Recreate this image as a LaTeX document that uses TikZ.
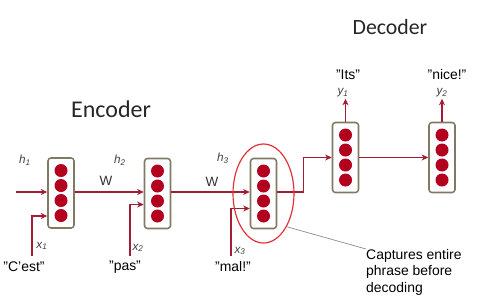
\documentclass[tikz,border=0pt]{standalone}
\usepackage{fontspec}
\setmainfont{Liberation Sans}
\newfontfamily\headfont{Carlito}
\usepackage{tikz}
\usetikzlibrary{shapes,calc,arrows.meta,positioning}

\definecolor{linkred}{RGB}{162,28,52}
\definecolor{unitred}{RGB}{178,0,30}
\definecolor{cellgray}{RGB}{128,122,100}
\definecolor{ringred}{RGB}{226,46,52}

\tikzset{
  cell/.style={draw=cellgray, line width=1.3pt, rounded corners=2.5pt, fill=white,
    minimum width=0.78cm, minimum height=2.1cm, inner sep=0pt},
  link/.style={-{Stealth[length=5.5pt,width=5pt,inset=1.5pt]}, draw=linkred, line width=1.1pt},
  word/.style={font=\fontsize{11.9}{14}\selectfont, inner sep=1pt},
  var/.style={font=\fontsize{10}{12}\selectfont\itshape, text=black!75, inner sep=1pt},
}

\begin{document}
\begin{tikzpicture}[x=0.03cm, y=-0.03cm]
\useasboundingbox (0,0) rectangle (482,302);

% titles
\node[font=\headfont\fontsize{20.5}{22}\selectfont, text=black!85] (enc) at (111,109) {Encoder};
\node[font=\headfont\fontsize{18.6}{20}\selectfont, text=black!85] (dec) at (390,27) {Decoder};

% recurrent cells
\node[cell] (c1) at (61,193) {};
\node[cell] (c2) at (157.5,193.5) {};
\node[cell] (c3) at (263.5,193.5) {};
\node[cell] (d1) at (345.5,157.5) {};
\node[cell] (d2) at (442,157.5) {};
\foreach \c in {c1,c2,c3,d1,d2}
  \foreach \d in {-22.5,-7.5,7.5,22.5}
    \fill[unitred] ($(\c)+(0,\d)$) circle (0.195cm);

% inputs
\node[word] (cest) at (24,267) {"C'est"};
\node[word] (pas) at (125,267) {"pas"};
\node[word] (mal) at (233,267) {"mal!"};
\node[var] (x1) at (42,246) {x\textsubscript{1}};
\node[var] (x2) at (138,248) {x\textsubscript{2}};
\node[var] (x3) at (240,251) {x\textsubscript{3}};
\coordinate (in1) at (32,256);
\coordinate (in2) at (130,256);
\coordinate (in3) at (231,256);
\draw[link] (in1) |- ($(c1.west)+(0,23)$);
\draw[link] (in2) |- ($(c2.west)+(0,11)$);
\draw[link] (in3) |- ($(c3.west)+(0,15)$);

% hidden states
\node[var] (h1) at (25,160) {h\textsubscript{1}};
\node[var] (h2) at (120,160) {h\textsubscript{2}};
\node[var] (h3) at (223,158) {h\textsubscript{3}};
\node[font=\fontsize{11.5}{13}\selectfont, text=black!80] (w1) at (106,181) {W};
\node[font=\fontsize{11.5}{13}\selectfont, text=black!80] (w2) at (212,182) {W};
\coordinate (h0) at (16,192);
\draw[link] (h0) -- (c1.west |- h0);
\draw[link] (c1.east |- h0) -- (c2.west |- h0);
\draw[link] (c2.east |- h0) -- (c3.west |- h0);
\draw[link] (c3.east |- h0) -- ++(26,0) |- (d1.west);
\draw[link] (d1.east) -- (d2.west);

% outputs
\node[var] (y1) at (343,93) {y\textsubscript{1}};
\node[var] (y2) at (442,93) {y\textsubscript{2}};
\node[word] (its) at (348,75) {"Its"};
\node[word] (nice) at (447,75) {"nice!"};
\draw[link] (d1.north) -- (d1.north |- y1.south);
\draw[link] (d2.north) -- (d2.north |- y2.south);

% context vector
\node[draw=ringred, line width=1pt, ellipse, minimum width=1.83cm, minimum height=2.97cm] (ctx) at (263.5,193.5) {};
\node[word, anchor=north west, align=left, inner sep=0pt] (note) at (366,249) {Captures entire\\phrase before\\decoding};
\draw[black!45, line width=0.6pt] (ctx.-55) -- (note.north west);
\end{tikzpicture}
\end{document}
